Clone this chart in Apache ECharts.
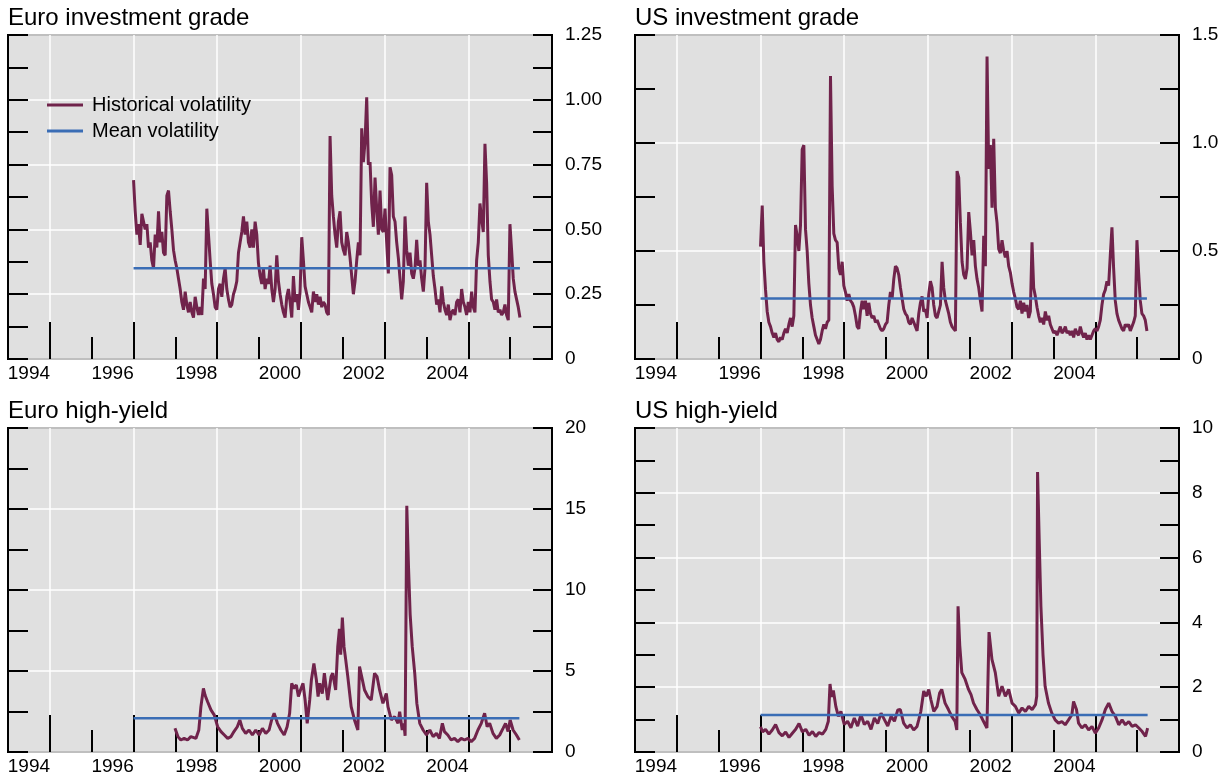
<!DOCTYPE html>
<html><head><meta charset="utf-8">
<script src="https://cdn.jsdelivr.net/npm/echarts@6/dist/echarts.min.js"></script>
<style>html,body{margin:0;padding:0;background:#fff}#c{width:1229px;height:778px}</style>
</head><body><div id="c"></div>
<script>
const FONT = '"Liberation Sans", Arial, Helvetica, sans-serif';
const panelTitles = ['Euro investment grade', 'US investment grade', 'Euro high-yield', 'US high-yield'];
const legendNames = ['Historical volatility', 'Mean volatility'];
const oddYearTicks = [1995, 1997, 1999, 2001, 2003, 2005];
const evenYearTicks = [1996, 1998, 2000, 2002, 2004, 2006];
const yearLabels = [1994, 1996, 1998, 2000, 2002, 2004];
const yMax = [1.25, 1.5, 20, 10];
const yStep = [0.25, 0.5, 5, 2];
const yDecimals = [2, 1, 0, 0];

// Euro investment grade: regular sampling from 1997.0
const euroIGStart = 1997.0, euroIGStep = 0.0398;
const euroIGValues = [
0.69,0.57,0.48,0.52,0.44,0.56,0.53,0.50,0.52,0.43,
0.45,0.38,0.35,0.48,0.43,0.57,0.45,0.49,0.41,0.40,
0.63,0.65,0.57,0.50,0.42,0.38,0.35,0.31,0.27,0.22,
0.19,0.26,0.21,0.18,0.22,0.18,0.16,0.24,0.20,0.17,
0.20,0.17,0.31,0.27,0.58,0.48,0.38,0.29,0.25,0.20,
0.19,0.27,0.29,0.24,0.31,0.35,0.27,0.23,0.20,0.21,
0.25,0.27,0.30,0.41,0.45,0.49,0.55,0.48,0.53,0.45,
0.43,0.50,0.43,0.53,0.48,0.37,0.32,0.29,0.35,0.27,
0.31,0.29,0.36,0.27,0.22,0.27,0.40,0.30,0.25,0.21,
0.18,0.16,0.24,0.27,0.22,0.16,0.32,0.22,0.25,0.19,
0.26,0.47,0.38,0.28,0.25,0.22,0.20,0.18,0.26,0.22,
0.25,0.21,0.24,0.20,0.22,0.21,0.18,0.17,0.86,0.63,
0.55,0.48,0.43,0.53,0.57,0.45,0.42,0.40,0.49,0.45,
0.39,0.32,0.25,0.30,0.38,0.45,0.40,0.89,0.76,0.84,
1.01,0.75,0.76,0.60,0.51,0.70,0.58,0.48,0.65,0.50,
0.49,0.58,0.45,0.33,0.74,0.71,0.55,0.53,0.45,0.39,
0.31,0.23,0.30,0.55,0.42,0.36,0.41,0.33,0.31,0.35,
0.46,0.36,0.38,0.31,0.26,0.35,0.68,0.53,0.48,0.40,
0.32,0.27,0.21,0.23,0.18,0.28,0.22,0.19,0.17,0.21,
0.15,0.18,0.19,0.17,0.22,0.23,0.18,0.27,0.22,0.20,
0.17,0.22,0.18,0.26,0.20,0.18,0.38,0.45,0.60,0.54,
0.49,0.83,0.68,0.40,0.30,0.23,0.22,0.19,0.23,0.18,
0.19,0.17,0.18,0.21,0.17,0.15,0.52,0.42,0.31,0.26,
0.23,0.20,0.16];
const euroIGMean = 0.35;

// US investment grade: regular sampling from 1997.0
const usIGStart = 1997.0, usIGStep = 0.0398;
const usIGValues = [
0.52,0.71,0.45,0.32,0.22,0.17,0.15,0.12,0.10,0.12,
0.09,0.08,0.10,0.09,0.12,0.14,0.12,0.16,0.19,0.15,
0.20,0.62,0.57,0.50,0.62,0.97,0.99,0.60,0.50,0.35,
0.25,0.19,0.15,0.11,0.09,0.07,0.09,0.13,0.16,0.14,
0.17,0.18,1.31,0.80,0.58,0.55,0.54,0.42,0.39,0.45,
0.34,0.31,0.27,0.30,0.27,0.26,0.24,0.20,0.15,0.14,
0.22,0.27,0.23,0.27,0.20,0.26,0.21,0.19,0.20,0.17,
0.18,0.16,0.14,0.13,0.14,0.16,0.17,0.25,0.31,0.28,
0.37,0.43,0.42,0.39,0.33,0.28,0.23,0.21,0.20,0.17,
0.16,0.19,0.17,0.15,0.13,0.21,0.26,0.29,0.22,0.23,
0.19,0.30,0.36,0.33,0.25,0.20,0.19,0.22,0.25,0.45,
0.33,0.27,0.24,0.21,0.17,0.15,0.14,0.13,0.87,0.84,
0.63,0.45,0.39,0.37,0.42,0.68,0.59,0.48,0.55,0.43,
0.37,0.33,0.27,0.22,0.57,0.43,1.40,0.88,0.99,0.70,
1.02,0.70,0.63,0.51,0.49,0.55,0.50,0.47,0.50,0.43,
0.40,0.35,0.31,0.28,0.24,0.23,0.27,0.21,0.26,0.22,
0.25,0.19,0.22,0.54,0.33,0.29,0.24,0.20,0.17,0.19,
0.16,0.22,0.18,0.20,0.16,0.14,0.12,0.13,0.11,0.13,
0.15,0.12,0.13,0.15,0.12,0.13,0.11,0.13,0.10,0.14,
0.12,0.11,0.15,0.12,0.10,0.12,0.09,0.11,0.09,0.11,
0.13,0.14,0.13,0.15,0.18,0.25,0.30,0.32,0.36,0.34,
0.48,0.61,0.42,0.27,0.21,0.18,0.16,0.14,0.13,0.16,
0.15,0.16,0.13,0.15,0.17,0.20,0.55,0.40,0.27,0.21,
0.20,0.18,0.13];
const usIGMean = 0.28;

// Euro high-yield
const euroHYYears = [
1997.99,1998.06,1998.13,1998.21,1998.29,1998.37,1998.49,1998.56,1998.61,1998.67,
1998.71,1998.77,1998.85,1998.93,1999.01,1999.09,1999.17,1999.25,1999.33,1999.40,
1999.48,1999.54,1999.60,1999.68,1999.76,1999.84,1999.92,2000.00,2000.08,2000.16,
2000.24,2000.30,2000.36,2000.44,2000.52,2000.60,2000.67,2000.73,2000.78,2000.83,
2000.89,2000.94,2000.99,2001.05,2001.10,2001.15,2001.21,2001.25,2001.31,2001.37,
2001.41,2001.45,2001.51,2001.56,2001.64,2001.72,2001.76,2001.83,2001.88,2001.92,
2001.95,2001.99,2002.03,2002.07,2002.12,2002.20,2002.28,2002.36,2002.40,2002.47,
2002.52,2002.60,2002.68,2002.76,2002.82,2002.88,2002.96,2003.04,2003.08,2003.16,
2003.24,2003.32,2003.36,2003.42,2003.46,2003.49,2003.53,2003.57,2003.61,2003.66,
2003.72,2003.77,2003.84,2003.92,2004.00,2004.08,2004.16,2004.24,2004.31,2004.38,
2004.43,2004.51,2004.59,2004.67,2004.75,2004.83,2004.91,2004.99,2005.07,2005.15,
2005.23,2005.31,2005.39,2005.45,2005.51,2005.59,2005.67,2005.75,2005.83,2005.89,
2005.95,2006.00,2006.07,2006.15,2006.22];
const euroHYValues = [
1.46,0.95,0.74,0.84,0.74,0.95,0.84,1.36,2.80,3.93,
3.50,3.10,2.60,2.28,1.56,1.26,1.05,0.84,0.95,1.26,
1.56,1.98,1.46,1.15,1.36,1.05,1.36,1.05,1.46,1.15,
1.36,1.98,2.39,1.77,1.36,1.05,1.56,2.39,4.24,3.93,
4.14,3.42,3.83,4.24,3.21,1.77,3.21,4.44,5.47,4.44,
3.42,4.24,3.60,4.86,3.21,4.65,4.86,3.83,6.50,7.60,
6.00,8.30,6.50,5.70,4.65,2.80,1.98,1.36,5.27,4.44,
3.83,3.42,3.21,4.86,4.65,3.83,3.00,3.62,2.80,1.98,
2.18,1.77,2.49,1.36,1.77,1.00,15.2,11.5,8.50,6.50,
4.86,3.00,1.77,1.36,1.05,1.36,0.95,1.15,0.84,1.77,
1.26,1.05,0.74,0.84,0.64,0.84,0.74,0.84,0.64,0.84,
1.36,1.77,2.39,1.56,1.77,1.15,0.84,1.05,1.46,1.77,
1.26,1.98,1.36,1.05,0.74];
const euroHYMean = 2.08;

// US high-yield
const usHYYears = [
1997.00,1997.05,1997.12,1997.20,1997.28,1997.36,1997.44,1997.52,1997.60,1997.68,
1997.76,1997.84,1997.92,1998.00,1998.08,1998.16,1998.24,1998.32,1998.40,1998.48,
1998.56,1998.62,1998.66,1998.70,1998.74,1998.80,1998.86,1998.92,1999.00,1999.08,
1999.16,1999.24,1999.32,1999.40,1999.48,1999.56,1999.64,1999.72,1999.80,1999.88,
1999.96,2000.04,2000.12,2000.20,2000.28,2000.34,2000.42,2000.50,2000.58,2000.66,
2000.74,2000.78,2000.83,2000.90,2000.96,2001.02,2001.07,2001.14,2001.22,2001.28,
2001.33,2001.41,2001.49,2001.57,2001.65,2001.69,2001.72,2001.76,2001.81,2001.89,
2001.97,2002.03,2002.09,2002.17,2002.25,2002.33,2002.41,2002.46,2002.53,2002.61,
2002.69,2002.77,2002.85,2002.93,2003.01,2003.09,2003.17,2003.25,2003.33,2003.41,
2003.49,2003.57,2003.60,2003.62,2003.66,2003.70,2003.75,2003.80,2003.88,2003.96,
2004.04,2004.12,2004.20,2004.28,2004.36,2004.44,2004.48,2004.55,2004.60,2004.68,
2004.76,2004.84,2004.92,2005.00,2005.08,2005.16,2005.24,2005.32,2005.40,2005.48,
2005.56,2005.64,2005.72,2005.80,2005.88,2005.96,2006.04,2006.12,2006.20,2006.25];
const usHYValues = [
0.78,0.62,0.70,0.55,0.68,0.85,0.60,0.50,0.62,0.45,
0.58,0.70,0.88,0.62,0.70,0.52,0.63,0.48,0.60,0.55,
0.70,0.95,2.10,1.70,1.90,1.40,1.10,1.25,0.85,0.95,
0.75,1.05,0.80,1.15,0.85,0.95,0.70,1.05,0.88,1.20,
1.00,0.80,1.10,0.95,1.30,1.31,0.89,0.74,0.84,0.68,
0.79,0.99,1.25,1.88,1.72,1.93,1.62,1.25,1.41,1.82,
1.93,1.51,1.31,1.10,0.94,0.68,4.50,3.30,2.45,2.24,
1.93,1.77,1.51,1.31,1.15,0.94,0.74,3.70,2.86,2.45,
1.72,2.03,1.72,1.93,1.51,1.41,1.20,1.36,1.25,1.41,
1.31,1.46,1.72,8.64,6.50,4.50,3.00,2.03,1.51,1.20,
0.99,0.89,0.94,0.84,0.99,1.15,1.56,1.31,0.89,0.74,
0.84,0.68,0.79,0.58,0.74,0.99,1.31,1.51,1.25,1.10,
0.84,0.99,0.84,0.94,0.79,0.84,0.74,0.63,0.48,0.74];
const usHYMean = 1.14;

const meanStart = [1997.0, 1997.0, 1997.0, 1997.0];

function fromGrid(start, step, vals) { return vals.map((v, i) => [start + i * step, v]); }
function fromPairs(xs, vals) { return xs.map((x, i) => [x, vals[i]]); }

const histData = [
  fromGrid(euroIGStart, euroIGStep, euroIGValues),
  fromGrid(usIGStart, usIGStep, usIGValues),
  fromPairs(euroHYYears, euroHYValues),
  fromPairs(usHYYears, usHYValues)
];
const means = [euroIGMean, usIGMean, euroHYMean, usHYMean];

const MAROON = '#70234b', BLUE = '#3a6db5', BG = '#e0e0e0';
const pos = [[8, 35], [635, 35], [8, 428], [635, 428]];
const PW = 544, PH = 324;
const TICK = { color: '#000', width: 2 };

const grid = [], xAxis = [], yAxis = [], series = [], title = [];
for (let p = 0; p < 4; p++) {
  grid.push({ left: pos[p][0], top: pos[p][1], width: PW, height: PH, show: true,
    backgroundColor: BG, borderColor: '#000', borderWidth: 2, containLabel: false });
  title.push({ text: panelTitles[p], left: pos[p][0], top: pos[p][1] - 29, padding: 0,
    textStyle: { fontFamily: FONT, fontSize: 24, fontWeight: 'normal', color: '#000' } });
  xAxis.push({ type: 'value', gridIndex: p, min: 1994, max: 2007, position: 'bottom',
    axisLine: { show: false },
    axisTick: { show: true, inside: true, length: 37, customValues: oddYearTicks, lineStyle: TICK },
    axisLabel: { show: true, customValues: yearLabels.map(y => y + 0.5), formatter: v => String(Math.floor(v)),
      fontFamily: FONT, fontSize: 19, color: '#000', margin: 5 },
    splitLine: { show: true, lineStyle: { color: '#ffffff', width: 1.5 } } });
  xAxis.push({ type: 'value', gridIndex: p, min: 1994, max: 2007, position: 'bottom',
    axisLine: { show: false }, axisLabel: { show: false }, splitLine: { show: false },
    axisTick: { show: true, inside: true, length: 22, customValues: evenYearTicks, lineStyle: TICK } });
  const dec = yDecimals[p];
  yAxis.push({ type: 'value', gridIndex: p, min: 0, max: yMax[p], interval: yStep[p], position: 'left',
    axisLine: { show: false }, axisLabel: { show: false }, splitLine: { show: false },
    axisTick: { show: true, inside: true, length: 20, lineStyle: TICK },
    minorTick: { show: true, splitNumber: 2, length: 20, lineStyle: TICK } });
  yAxis.push({ type: 'value', gridIndex: p, min: 0, max: yMax[p], interval: yStep[p], position: 'right',
    axisLine: { show: false },
    axisLabel: { show: true, margin: 13, fontFamily: FONT, fontSize: 19, color: '#000',
      formatter: v => (v === 0 ? '0' : v.toFixed(dec)) },
    splitLine: { show: true, lineStyle: { color: '#ffffff', width: 1.5 } },
    axisTick: { show: true, inside: true, length: 19, lineStyle: TICK },
    minorTick: { show: true, splitNumber: 2, length: 19, lineStyle: TICK } });
  const d = histData[p];
  series.push({ name: legendNames[0], type: 'line', xAxisIndex: 2 * p, yAxisIndex: 2 * p + 1,
    data: d, showSymbol: false, symbol: 'none', lineStyle: { color: MAROON, width: 3 }, itemStyle: { color: MAROON },
    z: 3, silent: true });
  series.push({ name: legendNames[1], type: 'line', xAxisIndex: 2 * p, yAxisIndex: 2 * p + 1,
    data: [[meanStart[p], means[p]], [d[d.length - 1][0], means[p]]], showSymbol: false, symbol: 'none',
    lineStyle: { color: BLUE, width: 2.5 }, itemStyle: { color: BLUE }, z: 4, silent: true });
}

const chart = echarts.init(document.getElementById('c'), null, { renderer: 'canvas' });
chart.setOption({
  animation: false,
  title: title,
  legend: { show: true, orient: 'vertical', left: 47, top: 95, padding: 0, itemGap: 6,
    itemWidth: 36, itemHeight: 3, icon: 'rect', data: legendNames, selectedMode: false,
    textStyle: { fontFamily: FONT, fontSize: 20, color: '#000', padding: [0, 0, 0, 4] } },
  grid: grid, xAxis: xAxis, yAxis: yAxis, series: series
});
</script></body></html>
